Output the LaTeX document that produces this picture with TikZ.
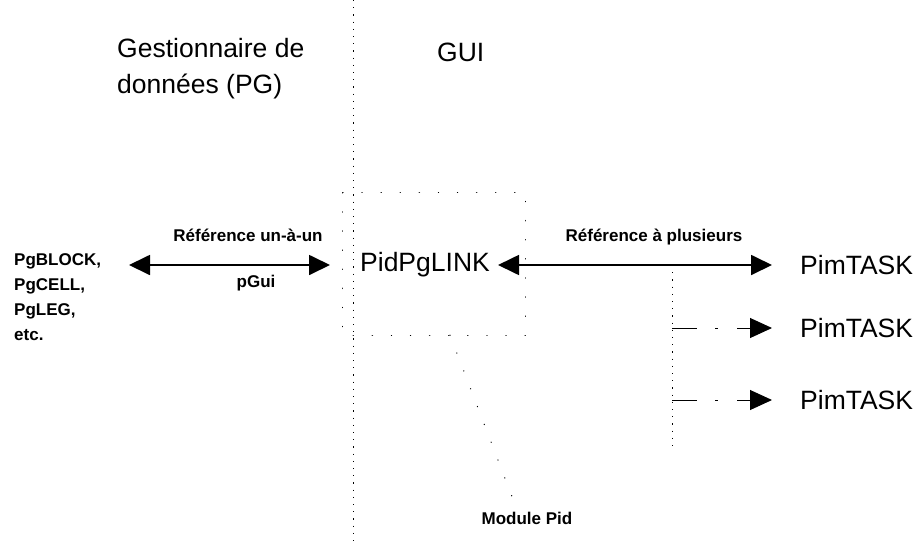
\documentclass[tikz,border=0pt]{standalone}
\usepackage{fontspec}
\setmainfont{Liberation Sans}
\usetikzlibrary{positioning, arrows.meta, calc}

\begin{document}
\begin{tikzpicture}[x=1pt, y=-1pt,
		big/.style={font=\fontsize{26.5}{36}\selectfont, inner sep=3pt},
		small/.style={font=\bfseries\fontsize{17}{25}\selectfont, inner sep=2pt},
		bigarrow/.style={line width=1.8pt, {Triangle[length=21pt, width=20pt]}-{Triangle[length=21pt, width=20pt]}},
		branch/.style={line width=1pt, dash pattern=on 25pt off 18pt on 3pt off 19pt on 60pt, -{Triangle[length=22pt, width=20pt]}},
		sparse/.style={line width=1pt, dash pattern=on 1.2pt off 6pt},
		dots/.style={line width=1.3pt, line cap=round, dash pattern=on 0.1pt off 19pt}]
	\useasboundingbox (0,0) rectangle (922,547);

	% Titres des deux zones
	\node[big, anchor=west, align=left] (pgtitle) at (114,69) {Gestionnaire de\\données (PG)};
	\node[big, anchor=west] (guititle) at (434,52) {GUI};

	% Séparation PG / GUI
	\coordinate (divtop) at (353,0);
	\coordinate (divbot) at (353,547);
	\draw[sparse] (divtop) -- (divbot);

	% Objets PG
	\node[small, anchor=west, align=left] (pglist) at (12,297) {PgBLOCK,\\PgCELL,\\PgLEG,\\etc.};

	% Module Pid
	\node[big, anchor=west] (link) at (357,265) {PidPgLINK};
	\node[minimum width=182pt, minimum height=142pt] (pidbox) at (434,264) {};
	\draw[dots] (pidbox.north west) rectangle (pidbox.south east);
	\node[small] (module) at (527,518) {Module Pid};
	\draw[dots] ([xshift=16pt]pidbox.south) -- ([xshift=-10pt]module.north);

	% Tâches
	\node[big, anchor=west] (task1) at (797,265) {PimTASK};
	\node[big, anchor=west] (task2) at (797,328) {PimTASK};
	\node[big, anchor=west] (task3) at (797,400) {PimTASK};

	% Référence un-à-un
	\coordinate (lefttip) at (129,265);
	\draw[bigarrow, shorten >=27pt] (lefttip) -- (link);
	\node[small] (onelabel) at (248,235) {Référence un-à-un};
	\node[small] (pguilabel) at (256,283) {pGui};

	% Référence à plusieurs
	\draw[bigarrow, shorten <=5pt, shorten >=25pt] (link) -- (task1);
	\node[small] (manylabel) at (654,237) {Référence à plusieurs};
	\coordinate (branchtop) at (672,265);
	\coordinate (branchbot) at (672,450);
	\draw[sparse, line width=0.8pt] (branchtop) -- (branchbot);
	\draw[branch, shorten >=25pt] (branchtop |- task2) -- (task2);
	\draw[branch, shorten >=25pt] (branchtop |- task3) -- (task3);
\end{tikzpicture}
\end{document}
